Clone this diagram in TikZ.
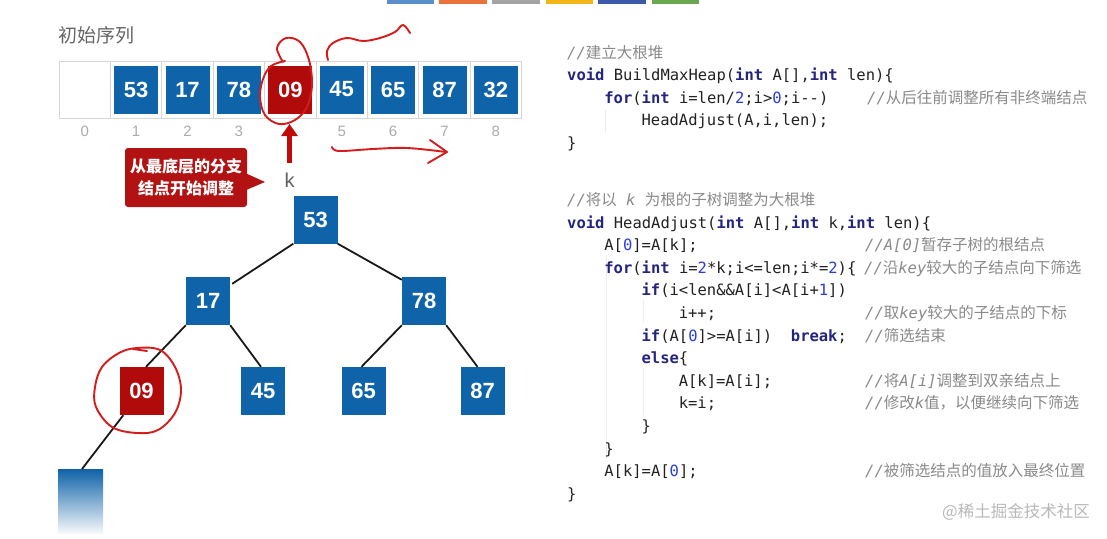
\documentclass[tikz,border=0pt]{standalone}
\usepackage{fontspec}
\setmainfont{Liberation Sans}
\setmonofont{DejaVu Sans Mono}
\newfontfamily\cjk{Noto Sans CJK SC}
\newfontfamily\hv{Liberation Sans}
\usetikzlibrary{arrows.meta,calc}
\definecolor{boxblue}{HTML}{0F63A8}
\definecolor{boxred}{HTML}{B00A0A}
\definecolor{callred}{HTML}{B31212}
\definecolor{arrred}{HTML}{C00A0A}
\definecolor{inkred}{HTML}{D41C1C}
\definecolor{kwc}{HTML}{25257E}
\definecolor{numc}{HTML}{2A3CD6}
\definecolor{codec}{HTML}{222222}
\definecolor{cmtc}{HTML}{8A8A8A}
\definecolor{cellc}{HTML}{D6D6D6}
\definecolor{guidec}{HTML}{EDEDED}
\definecolor{barA}{HTML}{5B8FC9}
\definecolor{barB}{HTML}{E8743B}
\definecolor{barC}{HTML}{A3A3A3}
\definecolor{barD}{HTML}{F2B619}
\definecolor{barE}{HTML}{3B5BA8}
\definecolor{barF}{HTML}{6AA84F}
\newcommand{\kw}[1]{{\bfseries\color{kwc}#1}}
\newcommand{\nm}[1]{{\color{numc}#1}}
\newcommand{\ci}[1]{{\itshape #1}}
\newcommand{\cz}[1]{{\cjk #1}}
\begin{document}
\begin{tikzpicture}[x=1pt,y=-1pt,
  cell/.style={draw=cellc,line width=0.8pt,minimum width=51.4pt,minimum height=57pt,inner sep=0pt},
  bbox/.style={fill=boxblue,minimum width=44pt,minimum height=48pt,inner sep=0pt,text=white,font=\hv\bfseries\fontsize{22}{24}\selectfont},
  rbox/.style={bbox,fill=boxred},
  idx/.style={text=gray!65,font=\hv\fontsize{15}{17}\selectfont,inner sep=0pt},
  edge/.style={draw=black!90,line width=1.8pt},
  ink/.style={draw=inkred,line width=1.9pt,line cap=round,line join=round},
  code/.style={anchor=base west,inner sep=0pt,text=codec,font=\ttfamily\fontsize{15.5}{18}\selectfont},
  cmt/.style={anchor=base west,inner sep=0pt,text=cmtc,font=\ttfamily\fontsize{15.5}{18}\selectfont},
  guide/.style={draw=guidec,line width=1pt}]
\useasboundingbox (0,0) rectangle (1107,538);
\fill[white] (0,0) rectangle (1107,538);
% top colour bars
\fill[barA] (387,0) rectangle (434,3.5);
\fill[barB] (439,0) rectangle (487,3.5);
\fill[barC] (492,0) rectangle (540,3.5);
\fill[barD] (546,0) rectangle (593,3.5);
\fill[barE] (598,0) rectangle (646,3.5);
\fill[barF] (652,0) rectangle (699,3.5);
% title
\node[anchor=west,inner sep=0pt,text=gray!80!black,font=\cjk\fontsize{19}{21}\selectfont] (title) at (58,35) {初始序列};
% array cells
\foreach \i in {0,...,8}{
  \node[cell] (cell\i) at ({84.7+51.4*\i},89.5) {};
}
\node[bbox] (a1) at (cell1) {53};
\node[bbox] (a2) at (cell2) {17};
\node[bbox] (a3) at (cell3) {78};
\node[rbox] (a4) at (cell4) {09};
\node[bbox] (a5) at (cell5) {45};
\node[bbox] (a6) at (cell6) {65};
\node[bbox] (a7) at (cell7) {87};
\node[bbox] (a8) at (cell8) {32};
\foreach \i in {0,1,2,3,5,6,7,8}{
  \node[idx] (i\i) at ({84.7+51.4*\i},131) {\i};
}
% callout
\node[fill=callred,rounded corners=3pt,minimum width=122pt,minimum height=59pt,inner sep=0pt,text=white,align=center,font=\cjk\bfseries\fontsize{16}{22}\selectfont] (call) at (186,177.5) {从最底层的分支\\结点开始调整};
\fill[callred] ($(call.east)+(-1,-4)$) -- (265,182) -- ($(call.east)+(-1,12.5)$) -- cycle;
% k and arrow
\node[inner sep=0pt,text=gray!75!black,font=\hv\fontsize{20}{22}\selectfont] (klab) at (289.5,180) {k};
\coordinate (arrS) at (289.5,163);
\coordinate (arrE) at (289.5,124);
\draw[arrred,line width=5pt,-{Triangle[width=16pt,length=12pt]}] (arrS) -- (arrE);
% tree
\node[bbox] (n53) at (315.5,219.5) {53};
\node[bbox] (n17) at (208,301) {17};
\node[bbox] (n78) at (424,301) {78};
\node[rbox] (n09) at (141.5,391) {09};
\node[bbox] (n45) at (263,391) {45};
\node[bbox] (n65) at (363.5,391) {65};
\node[bbox] (n87) at (482.5,391) {87};
\node[anchor=north,minimum width=45pt,minimum height=64pt,inner sep=0pt,top color=boxblue,middle color=boxblue!62,bottom color=boxblue!4,shading angle=0] (nb) at (80.5,469) {};
\draw[edge] (n53.south west) -- ($(n17.north east)+(2,7)$);
\draw[edge] (n53.south east) -- ($(n78.north west)+(0,3)$);
\draw[edge] (n17.south west) -- ($(n09.north)+(4.5,0)$);
\draw[edge] (n17.south east) -- ($(n45.north)+(-2,0)$);
\draw[edge] (n78.south west) -- ($(n65.north)+(-2,0)$);
\draw[edge] (n78.south east) -- ($(n87.north)+(-5,0)$);
\draw[edge] ($(n09.south west)+(4,0)$) -- ($(nb.north)+(1.5,0)$);
% freehand red ink
\draw[ink] plot[smooth,tension=0.6] coordinates {(283,62) (277,48) (286,38) (300,42) (309,60) (312,85) (307,107) (295,120) (279,124) (265,115) (260,97) (263,79) (271,66) (285,61)};
\draw[ink] plot[smooth,tension=0.6] coordinates {(328,60) (327,51) (333,43) (347,38) (363,41) (380,38) (395,32) (403,25) (410,33)};
\draw[ink] plot[smooth,tension=0.6] coordinates {(332,147) (339,151) (373,149) (407,148) (446,152)};
\draw[ink] (430,140) -- (447,152) -- (428,163);
\draw[ink] plot[smooth cycle,tension=0.6] coordinates {(137,348) (160,350) (175,367) (181,390) (175,413) (158,430) (137,433) (112,427) (96,407) (95,387) (102,367) (119,353)};
\draw[ink] (133,349) -- (147,351);
% code guides
\draw[guide] (605,110) -- (605,132);
\draw[guide] (606,255) -- (606,458);
\draw[guide] (643,300) -- (643,322);
\draw[guide] (643,368) -- (643,415);
% code block 1
\node[cmt] (t1) at (567,58) {\ci{//}\cz{建立大根堆}};
\node[code] (c1) at (567,80.5) {\kw{void} BuildMaxHeap(\kw{int} A[],\kw{int} len)\{};
\node[code] (c2) at (604.2,103) {\kw{for}(\kw{int} i=len/\nm{2};i>\nm{0};i-{}-)};
\node[cmt] (m2) at (867,103) {\ci{//}\cz{从后往前调整所有非终端结点}};
\node[code] (c3) at (641.4,125.5) {HeadAdjust(A,i,len);};
\node[code] (c4) at (567,148) {\}};
% code block 2
\node[cmt] (t2) at (567,205.5) {\ci{//}\cz{将以}\ci{\ k\ }\cz{为根的子树调整为大根堆}};
\node[code] (d1) at (567,228.1) {\kw{void} HeadAdjust(\kw{int} A[],\kw{int} k,\kw{int} len)\{};
\node[code] (d2) at (604.2,250.7) {A[\nm{0}]=A[k];};
\node[cmt] (m3) at (865,250.7) {\ci{//A[0]}\cz{暂存子树的根结点}};
\node[code] (d3) at (604.2,273.3) {\kw{for}(\kw{int} i=\nm{2}*k;i<=len;i*=\nm{2})\{};
\node[cmt] (m4) at (864,273.3) {\ci{//}\cz{沿}\ci{key}\cz{较大的子结点向下筛选}};
\node[code] (d4) at (641.4,295.9) {\kw{if}(i<len\&\&A[i]<A[i+\nm{1}])};
\node[code] (d5) at (678.6,318.5) {i++;};
\node[cmt] (m5) at (865,318.5) {\ci{//}\cz{取}\ci{key}\cz{较大的子结点的下标}};
\node[code] (d6) at (641.4,341.1) {\kw{if}(A[\nm{0}]>=A[i])\ \ \kw{break};};
\node[cmt] (m6) at (865,341.1) {\ci{//}\cz{筛选结束}};
\node[code] (d7) at (641.4,363.7) {\kw{else}\{};
\node[code] (d8) at (678.6,386.3) {A[k]=A[i];};
\node[cmt] (m7) at (865,386.3) {\ci{//}\cz{将}\ci{A[i]}\cz{调整到双亲结点上}};
\node[code] (d9) at (678.6,408.9) {k=i;};
\node[cmt] (m8) at (865,408.9) {\ci{//}\cz{修改}\ci{k}\cz{值，以便继续向下筛选}};
\node[code] (d10) at (641.4,431.5) {\}};
\node[code] (d11) at (604.2,454.1) {\}};
\node[code] (d12) at (604.2,476.7) {A[k]=A[\nm{0}];};
\node[cmt] (m9) at (865,476.7) {\ci{//}\cz{被筛选结点的值放入最终位置}};
\node[code] (d13) at (567,499.3) {\}};
% watermark
\node[anchor=east,inner sep=0pt,text=gray!55,font=\cjk\fontsize{16.5}{18}\selectfont] (wm) at (1090,512) {@稀土掘金技术社区};
\end{tikzpicture}
\end{document}
